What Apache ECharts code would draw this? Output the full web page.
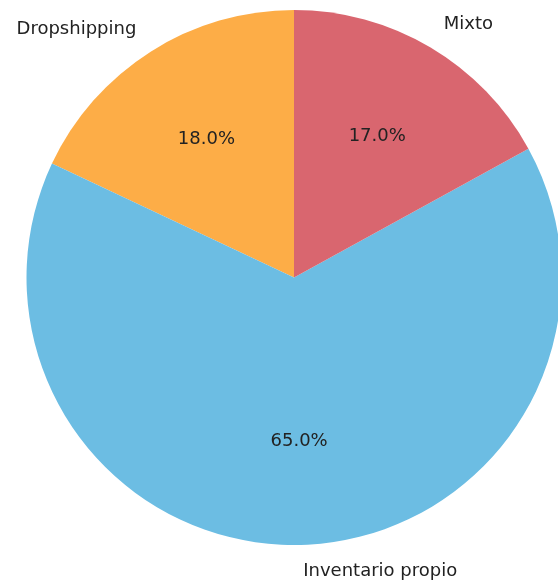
<!DOCTYPE html>
<html>
<head>
<meta charset="utf-8">
<script src="https://cdn.jsdelivr.net/npm/echarts@6/dist/echarts.min.js"></script>
<style>
  html, body { margin: 0; padding: 0; background: #fff; }
  #pie { width: 558px; height: 586px; }
</style>
</head>
<body>
<div id="pie"></div>
<script>
// 数据
var categories = ['Dropshipping', 'Inventario propio', 'Mixto'];
var shares = [18.0, 65.0, 17.0];
var colors = ['#fdad47', '#6cbde3', '#d9666f'];

var R = 267.5;
var pieCenter = [294, 277.5];

var pieData = [];
for (var i = 0; i < categories.length; i++) {
    pieData.push({
        name: categories[i],
        value: shares[i],
        itemStyle: { color: colors[i] }
    });
}

var chart = echarts.init(document.getElementById('pie'));
var option = {
    animation: false,
    series: [
        {
            // 扇区 + 外部名称
            type: 'pie',
            center: pieCenter,
            radius: [0, R],
            startAngle: 90,
            clockwise: false,
            avoidLabelOverlap: false,
            silent: true,
            data: pieData,
            itemStyle: { borderWidth: 0 },
            label: {
                show: true,
                position: 'outside',
                distanceToLabelLine: 0,
                formatter: '{b}',
                fontFamily: 'DejaVu Sans',
                fontSize: 18,
                color: '#222'
            },
            labelLine: {
                show: false,
                length: R * 0.1,
                length2: 0
            }
        },
        {
            // 百分比，放在 0.6 半径处
            type: 'pie',
            center: pieCenter,
            radius: [R * 0.2, R],
            startAngle: 90,
            clockwise: false,
            silent: true,
            data: pieData.map(function (d) {
                return { name: d.name, value: d.value, itemStyle: { color: 'transparent' } };
            }),
            label: {
                show: true,
                position: 'inside',
                formatter: function (p) {
                    return p.value.toFixed(1) + '%';
                },
                fontFamily: 'DejaVu Sans',
                fontSize: 18,
                color: '#222'
            },
            labelLine: { show: false }
        }
    ]
};
chart.setOption(option);

window.onresize = function () {
    chart.resize();
};
</script>
</body>
</html>
